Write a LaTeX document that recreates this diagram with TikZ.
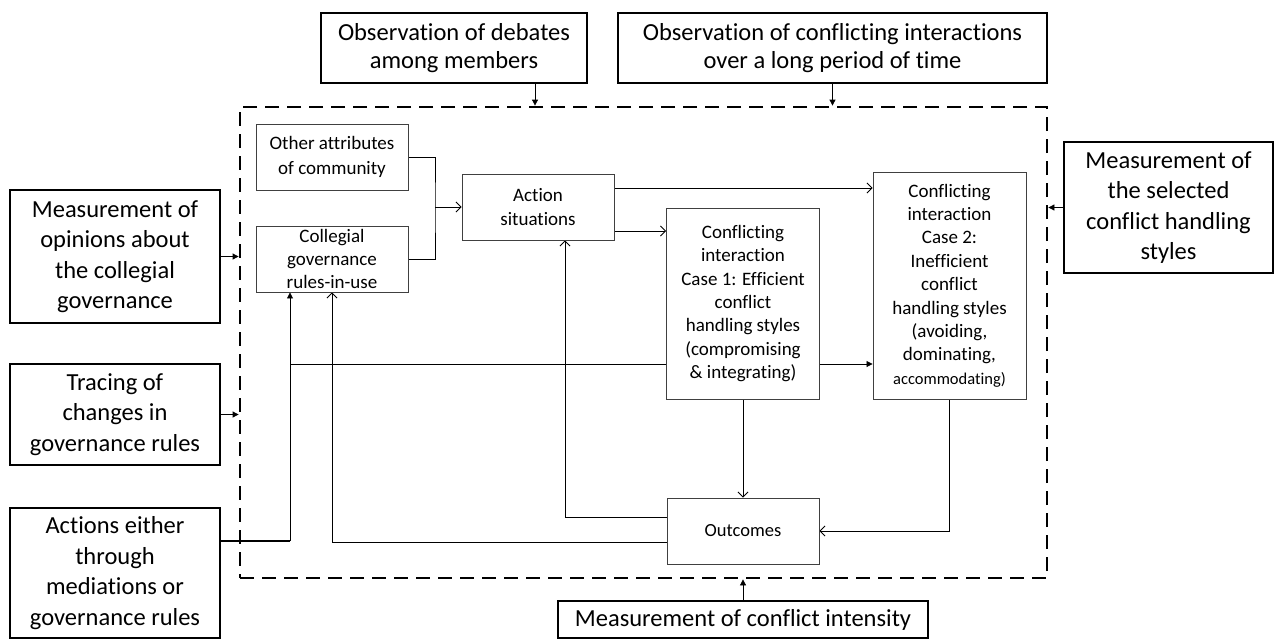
\documentclass[tikz,border=0pt]{standalone}
\usepackage{fontspec}
\setmainfont{Carlito}[Ligatures=NoCommon]
\usetikzlibrary{arrows.meta}
\pgfdeclarelayer{bg}
\pgfsetlayers{bg,main}
\begin{document}
\begin{tikzpicture}[x=1pt,y=-1pt,
  outer/.style={draw=black, line width=2.6pt, fill=white, align=center, inner sep=0pt, font=\fontsize{24.5}{30.5}\selectfont},
  innerbox/.style={draw=black!75, line width=0.9pt, fill=white, align=center, inner sep=0pt, font=\fontsize{19}{23.4}\selectfont},
  conn/.style={draw=black, line width=0.8pt},
  openarr/.style={conn, -{Straight Barb[length=5pt,width=10pt]}},
  fillarr/.style={draw=black, line width=0.8pt, -{Triangle[length=6pt,width=6pt]}},
  frame/.style={draw=black, line width=2.8pt, dash pattern=on 14pt off 8pt, inner sep=0pt}
]
\useasboundingbox (0,0) rectangle (1275,640);

% dashed frame
\node[frame, minimum width=807pt, minimum height=471pt] (frame) at (643.5,342.5) {};

% outer boxes
\node[outer, minimum width=266pt, minimum height=70pt, font=\fontsize{24.5}{28}\selectfont] (obs1) at (454,48) {Observation of debates\\among members};
\node[outer, minimum width=429pt, minimum height=70pt, font=\fontsize{24.5}{28}\selectfont] (obs2) at (832.5,48) {Observation of conflicting interactions\\over a long period of time};
\node[outer, minimum width=210pt, minimum height=133pt] (meas1) at (115,256.5) {Measurement of\\opinions about\\the collegial\\governance};
\node[outer, minimum width=210pt, minimum height=101pt] (trace) at (115,414.5) {Tracing of\\changes in\\governance rules};
\node[outer, minimum width=210pt, minimum height=130pt] (acts) at (115,573) {Actions either\\through\\mediations or\\governance rules};
\node[outer, minimum width=209pt, minimum height=131pt] (meas3) at (1168.5,207.5) {Measurement of\\the selected\\conflict handling\\styles};
\node[outer, minimum width=370pt, minimum height=37pt] (meas4) at (743,619.5) {Measurement of conflict intensity};

% inner boxes
\node[innerbox, minimum width=152pt, minimum height=66pt, font=\fontsize{19}{25}\selectfont] (other) at (332,157) {Other attributes\\of community};
\node[innerbox, minimum width=152pt, minimum height=66pt] (coll) at (332,259) {Collegial\\governance\\rules-in-use};
\node[innerbox, minimum width=152pt, minimum height=66pt, font=\fontsize{19}{24}\selectfont] (act) at (538,207) {Action\\situations};
\node[innerbox, minimum width=153pt, minimum height=191pt] (conf1) at (743,303.5) {Conflicting\\interaction\\Case 1: Efficient\\conflict\\handling styles\\(compromising\\\& integrating)};
\node[innerbox, minimum width=153pt, minimum height=227pt] (conf2) at (949.5,285.5) {Conflicting\\interaction\\Case 2:\\Inefficient\\conflict\\handling styles\\(avoiding,\\dominating,\\{\fontsize{16.5}{23.4}\selectfont accommodating)}};
\node[innerbox, minimum width=152pt, minimum height=66pt, font=\fontsize{18.5}{22}\selectfont] (out) at (743,531) {Outcomes};

% connectors
\begin{pgfonlayer}{bg}
  \coordinate (j1) at (435,207);
  \draw[conn] (other.east) -| (j1) |- (coll.east);
  \draw[openarr] (j1) -- (act.west);
  \draw[openarr] ([yshift=19pt]act.east) -- ([yshift=19pt]act.east -| conf2.west);
  \draw[openarr] ([yshift=-24pt]act.east) -- ([yshift=-24pt]act.east -| conf1.west);
  \draw[openarr] (conf1.south) -- (conf1.south |- out.north);
  \draw[openarr] (conf2.south) |- (out.east);
  \draw[openarr] ([yshift=14pt]out.west) -| ([xshift=27pt]act.south);
  \draw[openarr] ([yshift=-11pt]out.west) -| (coll.south);
  \coordinate (k) at (290,541);
  \draw[line width=1.8pt] ([yshift=32pt]acts.east) -- (k);
  \draw[fillarr] (k) -- ([xshift=-42pt]coll.south);
  \coordinate (br) at (290,364);
  \draw[fillarr] (br) -- (br -| conf2.west);
\end{pgfonlayer}

% measurement arrows into the frame
\draw[fillarr] ([xshift=81pt]obs1.south) -- ([xshift=81pt]obs1.south |- frame.north);
\draw[fillarr] (obs2.south) -- (obs2.south |- frame.north);
\draw[fillarr] (meas1.east) -- (meas1.east -| frame.west);
\draw[fillarr] (trace.east) -- (trace.east -| frame.west);
\draw[fillarr] (meas3.west) -- (meas3.west -| frame.east);
\draw[fillarr] (meas4.north) -- (meas4.north |- frame.south);
\end{tikzpicture}
\end{document}
